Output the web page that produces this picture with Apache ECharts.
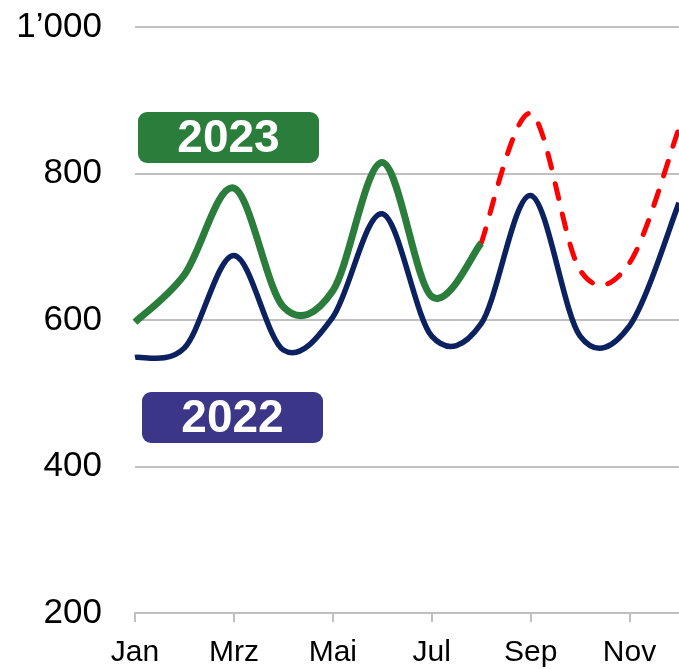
<!DOCTYPE html>
<html>
<head>
<meta charset="utf-8">
<script src="https://cdn.jsdelivr.net/npm/echarts@6/dist/echarts.min.js"></script>
<style>
  html, body { margin: 0; padding: 0; background: #fff; }
  #chart { width: 679px; height: 669px; }
</style>
</head>
<body>
<div id="chart"></div>
<script>
// Monate
var months = ['Jan', 'Feb', 'Mrz', 'Apr', 'Mai', 'Jun', 'Jul', 'Aug', 'Sep', 'Okt', 'Nov', 'Dez']
// Werte 2022 (ganzes Jahr)
var values2022 = [549, 562, 688, 559, 604, 745, 578, 595, 770, 578, 592, 760]
// Werte 2023 (Ist bis Aug)
var values2023 = [597, 662, 780, 618, 640, 815, 632, 705, null, null, null, null]
// Prognose 2023 (ab Aug)
var forecast2023 = [null, null, null, null, null, null, null, 705, 882, 668, 678, 862]
var yTicks = [200, 400, 600, 800, 1000]

var chart = echarts.init(document.getElementById('chart'))
var font = 'Liberation Sans, Arial, sans-serif'

function toPairs (arr) {
  var out = []
  arr.forEach(function (v, i) {
    if (v != null) out.push([i, v])
  })
  return out
}

// geglaettete Linie wie in Excel (Catmull-Rom), Punkte ueber die Achsen umgerechnet
function splineSeries (name, values, style, z) {
  var pairs = toPairs(values)
  return {
    name: name,
    type: 'custom',
    data: pairs,
    encode: { x: 0, y: 1 },
    z: z,
    clip: false,
    silent: true,
    renderItem: function (params, api) {
      if (params.dataIndex !== 0) return null
      var pts = pairs.map(function (p) { return api.coord(p) })
      var d = 'M' + pts[0][0] + ' ' + pts[0][1]
      for (var i = 0; i < pts.length - 1; i++) {
        var p0 = pts[Math.max(i - 1, 0)]
        var p1 = pts[i]
        var p2 = pts[i + 1]
        var p3 = pts[Math.min(i + 2, pts.length - 1)]
        var c1x = p1[0] + (p2[0] - p0[0]) / 6
        var c1y = p1[1] + (p2[1] - p0[1]) / 6
        var c2x = p2[0] - (p3[0] - p1[0]) / 6
        var c2y = p2[1] - (p3[1] - p1[1]) / 6
        d += ' C' + c1x + ' ' + c1y + ' ' + c2x + ' ' + c2y + ' ' + p2[0] + ' ' + p2[1]
      }
      return {
        type: 'path',
        shape: { pathData: d },
        style: style
      }
    }
  }
}

var option = {
  animation: false,
  grid: {
    left: 135,
    right: -1,
    top: 27,
    bottom: 56
  },
  xAxis: {
    type: 'category',
    data: months,
    boundaryGap: false,
    axisLine: { lineStyle: { color: '#bfbfbf', width: 2 } },
    axisTick: { show: true, length: 9, lineStyle: { color: '#bfbfbf', width: 2 } },
    axisLabel: {
      interval: 1,
      color: '#000',
      fontSize: 30,
      fontFamily: font,
      margin: 25
    },
    splitLine: { show: false }
  },
  yAxis: {
    type: 'value',
    min: yTicks[0],
    max: yTicks[yTicks.length - 1],
    interval: 200,
    axisLine: { show: false },
    axisTick: { show: false },
    axisLabel: {
      color: '#000',
      fontSize: 35,
      fontFamily: font,
      margin: 33,
      formatter: function (v) {
        return v >= 1000 ? Math.floor(v / 1000) + '\u2019' + String(v % 1000).padStart(3, '0') : String(v)
      }
    },
    splitLine: { lineStyle: { color: '#c0c0c0', width: 2 } }
  },
  series: [
    splineSeries('2022', values2022, { fill: 'none', stroke: '#0b2160', lineWidth: 5.5, lineJoin: 'round' }, 2),
    splineSeries('2023 Prognose', forecast2023, { fill: 'none', stroke: '#ff0000', lineWidth: 5, lineDash: [15, 16], lineCap: 'round' }, 3),
    splineSeries('2023', values2023, { fill: 'none', stroke: '#2a7d3b', lineWidth: 7, lineJoin: 'round' }, 4)
  ],
  graphic: [
    {
      type: 'group',
      left: 138,
      top: 112,
      children: [
        { type: 'rect', shape: { x: 0, y: 0, width: 181, height: 51, r: 9 }, style: { fill: '#2a7d3b' } },
        { type: 'text', x: 90.5, y: 27, style: { text: '2023', fill: '#fff', font: 'bold 46px ' + font, align: 'center', verticalAlign: 'middle' } }
      ]
    },
    {
      type: 'group',
      left: 142,
      top: 392,
      children: [
        { type: 'rect', shape: { x: 0, y: 0, width: 181, height: 51, r: 9 }, style: { fill: '#3b3687' } },
        { type: 'text', x: 90.5, y: 27, style: { text: '2022', fill: '#fff', font: 'bold 46px ' + font, align: 'center', verticalAlign: 'middle' } }
      ]
    }
  ]
}

chart.setOption(option)
</script>
</body>
</html>
